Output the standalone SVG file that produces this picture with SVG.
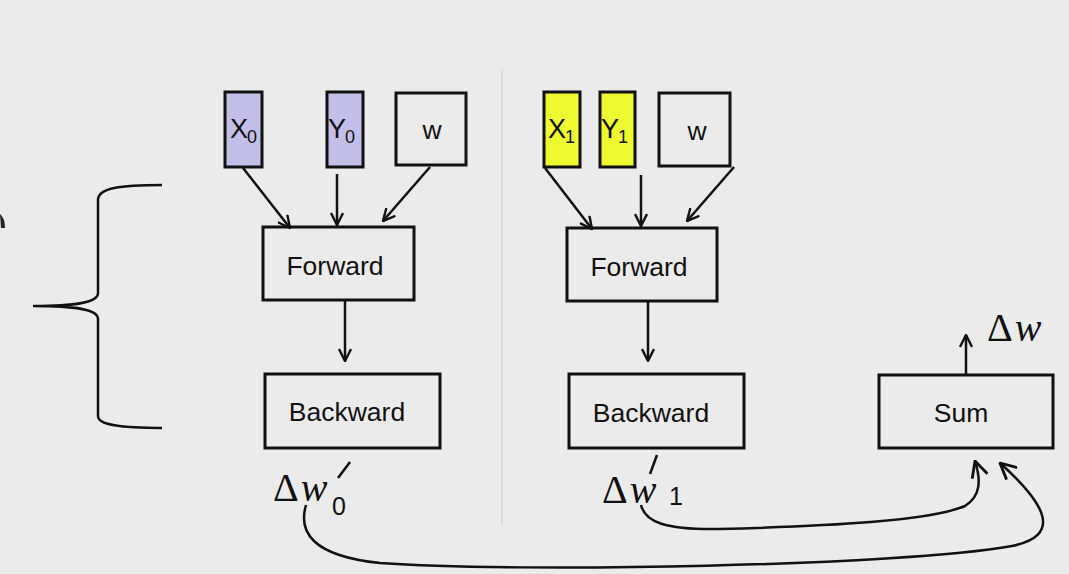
<svg xmlns="http://www.w3.org/2000/svg" width="1069" height="574" viewBox="0 0 1069 574">
<defs>
<style>
.box{stroke:#111;stroke-width:3;fill:none}
.lav{fill:#c3bfe9;stroke:#111;stroke-width:3}
.yel{fill:#eef930;stroke:#111;stroke-width:3}
.lbl{font-family:"Liberation Sans",Arial,sans-serif;font-size:26.5px;fill:#111}
.var{font-family:"Liberation Sans",Arial,sans-serif;font-size:27px;fill:#111}
.sub{font-size:18px}
.math{font-family:"Liberation Serif","Times New Roman",serif;font-size:40px;fill:#111}
.num{font-family:"Liberation Sans",Arial,sans-serif;font-size:25px;fill:#111}
.edge{stroke:#111;stroke-width:2.5;fill:none}
</style>
<marker id="ah" viewBox="0 0 14 14" refX="13" refY="7" markerWidth="14" markerHeight="14" markerUnits="userSpaceOnUse" orient="auto">
<path d="M1,1 L13,7 L1,13" fill="none" stroke="#111" stroke-width="2.4"/>
</marker>
<marker id="ahb" viewBox="0 0 18 18" refX="17" refY="9" markerWidth="18" markerHeight="18" markerUnits="userSpaceOnUse" orient="auto">
<path d="M1,1 L17,9 L1,17" fill="none" stroke="#111" stroke-width="2.8"/>
</marker>
</defs>
<rect width="1069" height="574" fill="#ebebeb"/>
<line x1="502" y1="70" x2="502" y2="525" stroke="#d6d6d6" stroke-width="1.5"/>
<path d="M0,214 Q5,218 5,228 L1,228 Z" fill="#222"/>
<g id="brace">
<path d="M162,185 C120,185 98,188 98,200 L98,293 C98,303 75,306 33,306 C75,306 98,309 98,319 L98,416 C98,425 120,428 162,428" fill="none" stroke="#111" stroke-width="2.5"/>
</g>
<g id="x0"><rect class="lav" x="225" y="92" width="37" height="75"/><text class="var" x="230" y="138">X<tspan class="sub" dy="5" dx="-1">0</tspan></text></g>
<g id="y0"><rect class="lav" x="327" y="92" width="36" height="75"/><text class="var" x="328" y="138">Y<tspan class="sub" dy="5" dx="-1">0</tspan></text></g>
<g id="w0"><rect class="box" x="396" y="93" width="70" height="72"/><text class="lbl" x="432" y="139" text-anchor="middle">w</text></g>
<g id="forward0"><rect class="box" x="263" y="227" width="151" height="73"/><text class="lbl" x="335" y="275" text-anchor="middle">Forward</text></g>
<g id="backward0"><rect class="box" x="265" y="374" width="175" height="74"/><text class="lbl" x="347" y="421" text-anchor="middle">Backward</text></g>
<g id="x1"><rect class="yel" x="544" y="92" width="36" height="75"/><text class="var" x="548" y="138">X<tspan class="sub" dy="5" dx="-1">1</tspan></text></g>
<g id="y1"><rect class="yel" x="600" y="92" width="35" height="75"/><text class="var" x="601" y="138">Y<tspan class="sub" dy="5" dx="-1">1</tspan></text></g>
<g id="w1"><rect class="box" x="659" y="93" width="71" height="73"/><text class="lbl" x="697" y="140" text-anchor="middle">w</text></g>
<g id="forward1"><rect class="box" x="567" y="228" width="150" height="73"/><text class="lbl" x="639" y="276" text-anchor="middle">Forward</text></g>
<g id="backward1"><rect class="box" x="569" y="374" width="175" height="74"/><text class="lbl" x="651" y="422" text-anchor="middle">Backward</text></g>
<g id="sum"><rect class="box" x="879" y="375" width="174" height="73"/><text class="lbl" x="961" y="422" text-anchor="middle">Sum</text></g>
<g id="dw0"><text class="math" x="273" y="501">Δ<tspan font-style="italic" dx="2">w</tspan></text><text class="num" x="332" y="515">0</text></g>
<g id="dw1"><text class="math" x="602" y="503">Δ<tspan font-style="italic" dx="2">w</tspan></text><text class="num" x="669" y="505">1</text></g>
<g id="dw"><text class="math" x="987" y="341">Δ<tspan font-style="italic" dx="2">w</tspan></text></g>
<g id="connectors">
<line class="edge" x1="243" y1="168" x2="290" y2="228" marker-end="url(#ah)"/>
<line class="edge" x1="337" y1="174" x2="337" y2="225" marker-end="url(#ah)"/>
<line class="edge" x1="430" y1="167" x2="383" y2="221" marker-end="url(#ah)"/>
<line class="edge" x1="545" y1="168" x2="592" y2="229" marker-end="url(#ah)"/>
<line class="edge" x1="641" y1="175" x2="641" y2="226" marker-end="url(#ah)"/>
<line class="edge" x1="734" y1="167" x2="687" y2="221" marker-end="url(#ah)"/>
<line class="edge" x1="345" y1="301" x2="345" y2="361" marker-end="url(#ah)"/>
<line class="edge" x1="648" y1="302" x2="648" y2="361" marker-end="url(#ah)"/>
<line class="edge" x1="966" y1="375" x2="966" y2="335" marker-end="url(#ah)"/>
<line class="edge" x1="350" y1="462" x2="338" y2="478"/>
<line class="edge" x1="657" y1="455" x2="650" y2="474"/>
<path class="edge" d="M306,505 C298,532 312,556 380,563 C520,573 900,566 1012,546 C1062,536 1047,505 1000,463" marker-end="url(#ahb)"/>
<path class="edge" d="M641,505 C645,522 665,530 720,529 C830,526 930,521 965,506 C981,496 981,480 975,461" marker-end="url(#ahb)"/>
</g>
</svg>
